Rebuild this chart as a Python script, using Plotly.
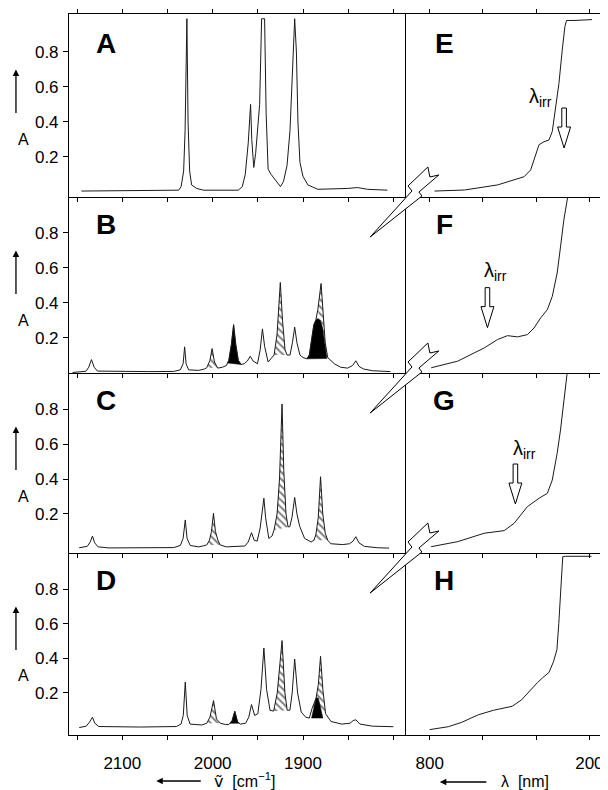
import numpy as np
import plotly.graph_objects as go

# ---------------- IR spectra (wavenumber cm-1, absorbance) ----------------
ir_a_wn = [2145.3, 2100, 2060, 2037.6, 2034.9, 2032.1, 2030.5, 2028.5, 2027.2, 2025.5, 2023.3, 2020.6,
           2017.8, 2010.1, 1990, 1971.6, 1967.2, 1963.9, 1960.6, 1958.0, 1956.7, 1954.5, 1952.4, 1950.2,
           1948.0, 1945.8, 1942.5, 1940.8, 1938.6, 1935.3, 1930.9, 1927.1, 1924.9, 1921.6, 1917.7, 1914.4,
           1911.7, 1909.2, 1907.3, 1905.6, 1903.4, 1900.1, 1894.6, 1883.6, 1850.6, 1839.6, 1828.6, 1806.6]
ir_a_abs = [0.005, 0.008, 0.008, 0.01, 0.03, 0.12, 0.35, 0.99, 0.40, 0.12, 0.04, 0.03,
            0.02, 0.01, 0.008, 0.01, 0.03, 0.10, 0.28, 0.50, 0.30, 0.14, 0.22, 0.36,
            0.50, 0.99, 0.99, 0.45, 0.13, 0.10, 0.07, 0.04, 0.03, 0.06, 0.15, 0.35,
            0.70, 0.99, 0.80, 0.40, 0.17, 0.09, 0.04, 0.015, 0.02, 0.025, 0.015, 0.01]

ir_b_wn = [2155, 2140.3, 2137.2, 2134.1, 2131.1, 2127.5, 2070.6, 2043.1, 2035.8, 2032.7, 2031.0, 2029.4,
           2026.6, 2015.6, 2009.0, 2006.5, 2003.0, 2000.6, 1998.0, 1994.4, 1989.2, 1984.8, 1982.1, 1979.3,
           1976.8, 1974.4, 1971.6, 1968.6, 1965.0, 1961.7, 1958.4, 1955.1, 1950.4, 1947.4, 1944.9, 1942.5,
           1938.6, 1935.3, 1932.0, 1928.7, 1925.1, 1922.7, 1919.9, 1917.7, 1914.4, 1911.7, 1909.2, 1906.7,
           1903.4, 1900.1, 1895.7, 1893.0, 1890.2, 1888.0, 1885.8, 1883.6, 1880.0, 1877.6, 1875.4, 1872.6,
           1865.3, 1858.3, 1850.6, 1845.1, 1841.5, 1838.0, 1833.0, 1823.1, 1803.3]
ir_b_abs = [0.0, 0.007, 0.03, 0.074, 0.03, 0.008, 0.005, 0.006, 0.015, 0.05, 0.147, 0.05,
            0.015, 0.012, 0.02, 0.027, 0.07, 0.137, 0.06, 0.025, 0.03, 0.04, 0.07, 0.16,
            0.274, 0.16, 0.07, 0.046, 0.05, 0.065, 0.093, 0.065, 0.05, 0.13, 0.25, 0.15,
            0.06, 0.08, 0.10, 0.22, 0.516, 0.30, 0.13, 0.10, 0.10, 0.17, 0.26, 0.17,
            0.10, 0.086, 0.078, 0.10, 0.20, 0.274, 0.30, 0.36, 0.51, 0.35, 0.17, 0.085,
            0.05, 0.03, 0.025, 0.04, 0.067, 0.035, 0.02, 0.01, 0.005]

ir_c_wn = [2147.7, 2138.8, 2135.5, 2133.0, 2130.6, 2126.7, 2114.6, 2054.1, 2043.1, 2035.8, 2032.7, 2030.3,
           2028.3, 2024.8, 2015.6, 2010.1, 2006.5, 2003.5, 2001.3, 1999.1, 1996.9, 1994.2, 1991.7, 1984.8,
           1973.8, 1964.3, 1960.6, 1957.0, 1954.0, 1950.7, 1947.4, 1945.2, 1943.3, 1941.4, 1937.8, 1934.2,
           1932.0, 1928.7, 1926.0, 1923.2, 1921.3, 1918.8, 1916.6, 1914.7, 1912.2, 1909.2, 1906.7, 1903.7,
           1898.2, 1891.0, 1888.0, 1885.8, 1883.1, 1880.6, 1878.1, 1875.4, 1872.6, 1869.3, 1856.1, 1848.4,
           1844.6, 1841.5, 1838.0, 1832.0, 1817.6, 1804.7]
ir_c_abs = [0.007, 0.015, 0.04, 0.074, 0.035, 0.012, 0.006, 0.005, 0.008, 0.02, 0.06, 0.166,
            0.06, 0.02, 0.012, 0.018, 0.023, 0.05, 0.10, 0.204, 0.10, 0.05, 0.023, 0.012,
            0.015, 0.017, 0.04, 0.093, 0.05, 0.045, 0.12, 0.2, 0.29, 0.18, 0.06, 0.075,
            0.109, 0.20, 0.40, 0.829, 0.45, 0.20, 0.127, 0.127, 0.18, 0.295, 0.20, 0.13,
            0.06, 0.04, 0.05, 0.08, 0.18, 0.413, 0.20, 0.09, 0.05, 0.03, 0.025, 0.03,
            0.045, 0.07, 0.035, 0.015, 0.007, 0.005]

ir_d_wn = [2147.6, 2140.0, 2136.5, 2133.0, 2130.5, 2126.0, 2080.0, 2040.0, 2035.0, 2032.5, 2030.3, 2028.2,
           2025.0, 2012.0, 2006.5, 2003.0, 1999.0, 1995.8, 1991.5, 1986.0, 1982.0, 1978.5, 1975.5, 1972.5,
           1969.5, 1963.5, 1960.0, 1957.0, 1953.5, 1950.0, 1946.5, 1943.3, 1940.3, 1936.5, 1932.5, 1928.5,
           1923.2, 1920.0, 1917.5, 1914.5, 1912.0, 1909.2, 1906.0, 1902.0, 1897.0, 1893.0, 1890.0, 1885.5,
           1883.0, 1880.6, 1878.0, 1875.0, 1869.0, 1857.0, 1848.0, 1844.5, 1841.5, 1837.0, 1823.0, 1800.0]
ir_d_abs = [0.0, 0.008, 0.03, 0.06, 0.025, 0.006, 0.003, 0.006, 0.02, 0.07, 0.263, 0.07,
            0.02, 0.015, 0.025, 0.06, 0.156, 0.05, 0.025, 0.018, 0.018, 0.04, 0.094, 0.035,
            0.02, 0.025, 0.06, 0.133, 0.07, 0.08, 0.22, 0.46, 0.22, 0.10, 0.095, 0.2,
            0.503, 0.20, 0.10, 0.10, 0.20, 0.396, 0.20, 0.09, 0.06, 0.055, 0.11, 0.17,
            0.25, 0.412, 0.22, 0.08, 0.035, 0.02, 0.025, 0.04, 0.045, 0.02, 0.008, 0.005]

# shaded bands (high wavenumber, low wavenumber)
hatch_b = [(2006.5, 1994.4), (1932.0, 1917.7), (1883.6, 1872.6)]
black_b = [(1983.5, 1968.6)]
hatch_c = [(2006.5, 1991.7), (1932.0, 1914.7), (1888.0, 1872.6)]
hatch_d = [(2006.5, 1991.5), (1932.5, 1917.5), (1890.0, 1875.0)]
black_d = [(1981.0, 1970.5)]
# black overlapping-band areas
black_b2_wn = [1895.7, 1893.0, 1890.2, 1888.0, 1885.8, 1883.6, 1881.0, 1878.5, 1876.0, 1873.5]
black_b2_abs = [0.078, 0.10, 0.20, 0.274, 0.30, 0.31, 0.30, 0.26, 0.17, 0.08]
black_d2_wn = [1890.5, 1888.0, 1885.5, 1883.0, 1880.5, 1878.0]
black_d2_abs = [0.055, 0.12, 0.172, 0.17, 0.12, 0.055]

# ---------------- UV/Vis spectra (nm, absorbance) ----------------
uv_e_nm = [781.7, 669.6, 545.0, 445.3, 420.5, 401.8, 389.2, 370.5, 351.8, 339.5, 327.0, 314.4, 302.0, 292.0, 286.0, 258.0, 190.0]
uv_e_abs = [0.005, 0.011, 0.04, 0.087, 0.126, 0.21, 0.27, 0.287, 0.297, 0.345, 0.469, 0.62, 0.81, 0.945, 0.98, 0.98, 0.985]
uv_f_nm = [794.4, 694.6, 594.8, 545.0, 507.7, 470.0, 433.0, 408.0, 383.0, 358.0, 339.5, 321.0, 308.5, 296.0, 283.4, 280.0]
uv_f_abs = [0.027, 0.065, 0.141, 0.189, 0.211, 0.204, 0.217, 0.255, 0.313, 0.36, 0.436, 0.57, 0.72, 0.874, 0.989, 1.02]
uv_g_nm = [794.4, 694.6, 594.8, 520.0, 482.6, 433.0, 389.0, 358.0, 339.5, 321.0, 308.5, 296.0, 290.0, 284.0]
uv_g_abs = [0.013, 0.042, 0.09, 0.105, 0.147, 0.242, 0.29, 0.318, 0.394, 0.547, 0.68, 0.851, 0.927, 1.0]
uv_h_nm = [800, 730, 680, 617, 560, 520, 490, 455, 420, 395, 375, 352, 335, 322, 315, 309, 303, 300, 290, 192]
uv_h_abs = [-0.012, 0.005, 0.03, 0.074, 0.1, 0.115, 0.123, 0.16, 0.22, 0.26, 0.289, 0.318, 0.38, 0.45, 0.6, 0.74, 0.92, 0.988, 0.99, 0.99]

# irradiation wavelengths (arrow positions) for panels E, F, G
irr_nm = [295, 583, 478]
irr_tip_abs = [0.251, 0.257, 0.257]
irr_label_pos = [(384, 0.54), (553, 0.577), (442, 0.566)]

left_letters = ['A', 'B', 'C', 'D']
right_letters = ['E', 'F', 'G', 'H']
ir_ticks = [2150, 2100, 2050, 2000, 1950, 1900, 1850, 1800]
ir_ticktext = ['', '2100', '', '2000', '', '1900', '', '']
uv_ticks = [800, 600, 400, 200]
uv_ticktext = ['800', '', '', '200']
y_ticks = [0.2, 0.4, 0.6, 0.8]
y_ticktext = ['0.2', '0.4', '0.6', '0.8']

ir_sets = [(ir_a_wn, ir_a_abs), (ir_b_wn, ir_b_abs), (ir_c_wn, ir_c_abs), (ir_d_wn, ir_d_abs)]
uv_sets = [(uv_e_nm, uv_e_abs), (uv_f_nm, uv_f_abs), (uv_g_nm, uv_g_abs), (uv_h_nm, uv_h_abs)]
hatch_sets = [[], hatch_b, hatch_c, hatch_d]
black_sets = [[], black_b, [], black_d]
black_polys = [None, (black_b2_wn, black_b2_abs), None, (black_d2_wn, black_d2_abs)]

for a, b in ir_sets + uv_sets:
    assert len(a) == len(b)

# ---------------- geometry (reference page pixels) ----------------
OFF = 8                 # default page margin of the html body
FW, FH = 608 - OFF, 790 - OFF
ROW_PX = [(14, 197), (197, 373), (373, 553), (553, 735)]
LEFT_PX = (69.3, 408.0)
RIGHT_PX = (408.0, 603.0)
IR_RANGE = [2159, 1786]
UV_RANGE = [889, 160]
Y_RANGES = [[-0.029, 1.017], [-0.003, 1.006], [-0.023, 1.006], [-0.043, 1.009]]

FONT = "Liberation Sans, Arial, Helvetica, sans-serif"
LINE = "#1a1a1a"


def pxx(px):
    return (px - OFF) / FW


def pxy(py):
    return 1 - (py - OFF) / FH


def to_px(col, row, xv, yv):
    x0, x1 = LEFT_PX if col == 0 else RIGHT_PX
    r = IR_RANGE if col == 0 else UV_RANGE
    px = x0 + (xv - r[0]) / (r[1] - r[0]) * (x1 - x0)
    top, bot = ROW_PX[row]
    yr = Y_RANGES[row]
    py = bot - (yv - yr[0]) / (yr[1] - yr[0]) * (bot - top)
    return px, py


def path_px(points):
    s = ""
    for i, (px, py) in enumerate(points):
        s += ("M" if i == 0 else "L") + f"{pxx(px):.5f},{pxy(py):.5f} "
    return s + "Z"


def band_polygon(wn, ab, lo, hi):
    wn = np.asarray(wn, float)
    ab = np.asarray(ab, float)
    o = np.argsort(wn)
    ylo = float(np.interp(lo, wn[o], ab[o]))
    yhi = float(np.interp(hi, wn[o], ab[o]))
    inside = (wn < lo) & (wn > hi)
    xs = [lo] + list(wn[inside]) + [hi, lo]
    ys = [ylo] + list(ab[inside]) + [yhi, ylo]
    return xs, ys


fig = go.Figure()
layout = dict(width=FW, height=FH, margin=dict(l=0, r=0, t=0, b=0),
              paper_bgcolor="white", plot_bgcolor="white", showlegend=False,
              font=dict(family=FONT, color="black"))
annotations = []
shapes = []

for row in range(4):
    nl, nr = 2 * row + 1, 2 * row + 2
    xl = "x" if nl == 1 else f"x{nl}"
    yl = "y" if nl == 1 else f"y{nl}"
    xr, yr = f"x{nr}", f"y{nr}"
    top, bot = ROW_PX[row]
    ydom = [pxy(bot), pxy(top)]
    bottom_row = row == 3

    common_x = dict(showline=True, linecolor="black", linewidth=1,
                    mirror="ticks" if row == 0 else False, ticks="outside",
                    ticklen=4, tickwidth=1, tickcolor="black", showgrid=False, zeroline=False,
                    tickfont=dict(size=17, family=FONT), ticklabelstandoff=9)
    layout["xaxis" if nl == 1 else f"xaxis{nl}"] = dict(
        common_x, domain=[pxx(LEFT_PX[0]), pxx(LEFT_PX[1])], range=IR_RANGE, anchor=yl,
        tickvals=ir_ticks, ticktext=ir_ticktext, showticklabels=bottom_row)
    layout[f"xaxis{nr}"] = dict(
        common_x, domain=[pxx(RIGHT_PX[0]), pxx(RIGHT_PX[1])], range=UV_RANGE, anchor=yr,
        tickvals=uv_ticks, ticktext=uv_ticktext, showticklabels=bottom_row)
    layout["yaxis" if nl == 1 else f"yaxis{nl}"] = dict(
        domain=ydom, range=Y_RANGES[row], anchor=xl, showline=True, linecolor="black", linewidth=1,
        mirror=False, ticks="outside", ticklen=5, tickwidth=1, tickcolor="black",
        tickvals=y_ticks, ticktext=y_ticktext, showgrid=False, zeroline=False,
        tickfont=dict(size=17, family=FONT), ticklabelstandoff=1)
    layout[f"yaxis{nr}"] = dict(
        domain=ydom, range=Y_RANGES[row], anchor=xr, showline=True, linecolor="black", linewidth=1,
        mirror=True, ticks="", showticklabels=False, showgrid=False, zeroline=False)

    wn, ab = ir_sets[row]
    for lo, hi in hatch_sets[row]:
        xs, ys = band_polygon(wn, ab, lo, hi)
        fig.add_trace(go.Scatter(x=xs, y=ys, xaxis=xl, yaxis=yl, mode="lines", fill="toself",
                                 line=dict(width=0, color="black"), fillcolor="white",
                                 fillpattern=dict(shape="\\", fgcolor="black", bgcolor="white",
                                                  size=5, solidity=0.4),
                                 hoverinfo="skip"))
    for lo, hi in black_sets[row]:
        xs, ys = band_polygon(wn, ab, lo, hi)
        fig.add_trace(go.Scatter(x=xs, y=ys, xaxis=xl, yaxis=yl, mode="lines", fill="toself",
                                 line=dict(width=0.5, color="black"), fillcolor="black",
                                 hoverinfo="skip"))
    if black_polys[row] is not None:
        bx, by = black_polys[row]
        fig.add_trace(go.Scatter(x=list(bx) + [bx[0]], y=list(by) + [by[0]], xaxis=xl, yaxis=yl,
                                 mode="lines", fill="toself", line=dict(width=0.5, color="black"),
                                 fillcolor="black", hoverinfo="skip"))
    fig.add_trace(go.Scatter(x=wn, y=ab, xaxis=xl, yaxis=yl, mode="lines",
                             line=dict(color=LINE, width=1), hoverinfo="skip"))

    nm, uab = uv_sets[row]
    fig.add_trace(go.Scatter(x=nm, y=uab, xaxis=xr, yaxis=yr, mode="lines",
                             line=dict(color=LINE, width=1), hoverinfo="skip"))

    # panel letters
    annotations.append(dict(x=2118, y=0.85, xref=xl, yref=yl, text=f"<b>{left_letters[row]}</b>",
                            showarrow=False, font=dict(size=28, family=FONT)))
    annotations.append(dict(x=745, y=0.85, xref=xr, yref=yr, text=f"<b>{right_letters[row]}</b>",
                            showarrow=False, font=dict(size=28, family=FONT)))
    # y-axis label "A" with upward arrow
    annotations.append(dict(x=pxx(16), y=0.70, xref="paper", yref=yl, ax=0, ay=45, text="",
                            showarrow=True, arrowhead=2, arrowsize=1, arrowwidth=1.3,
                            arrowcolor="black"))
    annotations.append(dict(x=pxx(16), y=0.30, xref="paper", yref=yl, text="A", showarrow=False,
                            font=dict(size=16, family=FONT)))

    # lightning break symbol between rows
    if row > 0:
        tipx, tipy = 372.0, top + 40.0
        bolt = [(0, 0), (42, -46), (38, -51), (58, -70), (60, -60), (69, -62), (49, -45), (52, -41)]
        shapes.append(dict(type="path", xref="paper", yref="paper", layer="above",
                           path=path_px([(tipx + dx, tipy + dy) for dx, dy in bolt]),
                           line=dict(color="black", width=1), fillcolor="white"))

# lambda_irr labels and hollow arrows
for i in range(3):
    row = i
    nr = 2 * row + 2
    lx, ly = irr_label_pos[i]
    annotations.append(dict(x=lx, y=ly, xref=f"x{nr}", yref=f"y{nr}", text="λ<sub>irr</sub>",
                            showarrow=False, font=dict(size=20, family=FONT)))
    tx, ty = to_px(1, row, irr_nm[i], irr_tip_abs[i])
    arrow = [(-2.3, -40), (2.3, -40), (2.3, -21), (6.5, -21), (0, 0), (-6.5, -21), (-2.3, -21)]
    shapes.append(dict(type="path", xref="paper", yref="paper", layer="above",
                       path=path_px([(tx + dx, ty + dy) for dx, dy in arrow]),
                       line=dict(color="black", width=1), fillcolor="white"))

# axis titles
annotations.append(dict(x=pxx(157), y=pxy(781), xref="paper", yref="paper", ax=46, ay=0, text="",
                        showarrow=True, arrowhead=2, arrowsize=1, arrowwidth=1.3, arrowcolor="black"))
annotations.append(dict(x=pxx(213), y=pxy(780), xref="paper", yref="paper", xanchor="left",
                        yanchor="middle",
                        text="<span style='font-family:DejaVu Sans'>ṽ</span>  [cm<sup>−1</sup>]",
                        showarrow=False, font=dict(size=16, family=FONT)))
annotations.append(dict(x=pxx(442), y=pxy(782), xref="paper", yref="paper", ax=48, ay=0, text="",
                        showarrow=True, arrowhead=2, arrowsize=1, arrowwidth=1.3, arrowcolor="black"))
annotations.append(dict(x=pxx(501), y=pxy(781), xref="paper", yref="paper", xanchor="left",
                        yanchor="middle",
                        text="λ  [nm]", showarrow=False, font=dict(size=16, family=FONT)))

layout["annotations"] = annotations
layout["shapes"] = shapes
fig.update_layout(**layout)
fig.write_html("out.html")
